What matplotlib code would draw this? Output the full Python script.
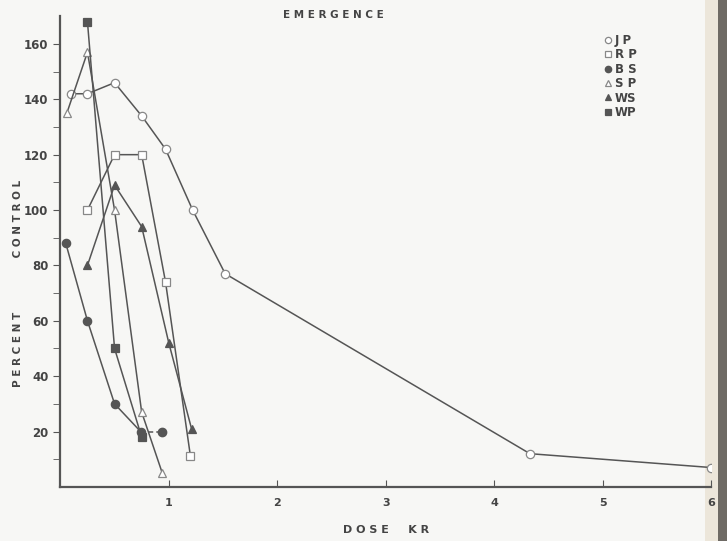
import matplotlib
matplotlib.use("Agg")
import matplotlib.pyplot as plt
from matplotlib.patches import Rectangle

# emergence, percent of control vs dose (kR)
jp_x = [0.1, 0.25, 0.5, 0.75, 0.97, 1.22, 1.52, 4.33, 6.0]
jp_y = [142, 142, 146, 134, 122, 100, 77, 12, 7]
rp_x = [0.25, 0.5, 0.75, 0.97, 1.2]
rp_y = [100, 120, 120, 74, 11]
bs_x = [0.05, 0.25, 0.5, 0.74, 0.94]
bs_y = [88, 60, 30, 20, 20]
sp_x = [0.06, 0.25, 0.5, 0.75, 0.94]
sp_y = [135, 157, 100, 27, 5]
ws_x = [0.25, 0.5, 0.75, 1.0, 1.21]
ws_y = [80, 109, 94, 52, 21]
wp_x = [0.25, 0.5, 0.75]
wp_y = [168, 50, 18]

xticks = [1, 2, 3, 4, 5, 6]
yticks = [20, 40, 60, 80, 100, 120, 140, 160]

ink = "#555555"
txt = "#444444"
bg = "#f7f7f5"

fig = plt.figure(figsize=(7.27, 5.41), dpi=100, facecolor=bg)
ax = fig.add_axes([0.083, 0.1, 0.895, 0.87], facecolor="none")

kw = dict(color=ink, lw=1.1, markersize=6, markeredgewidth=0.9)
h_jp, = ax.plot(jp_x, jp_y, marker="o", mfc="white", mec="#888888", **kw)
h_rp, = ax.plot(rp_x, rp_y, marker="s", mfc="white", mec="#888888", **kw)
ax.plot(bs_x[:-1], bs_y[:-1], marker="o", mfc=ink, mec=ink, **kw)
ax.plot(bs_x[-2:], bs_y[-2:], ls="--", dashes=(3, 2), color=ink, lw=1.1)
h_bs, = ax.plot(bs_x[-1:], bs_y[-1:], ls="none", marker="o", mfc=ink, mec=ink,
                markersize=6)
h_sp, = ax.plot(sp_x, sp_y, marker="^", mfc="white", mec="#888888", **kw)
h_ws, = ax.plot(ws_x, ws_y, marker="^", mfc=ink, mec=ink, **kw)
h_wp, = ax.plot(wp_x, wp_y, marker="s", mfc=ink, mec=ink, **kw)

ax.set_xlim(0, 6.0)
ax.set_ylim(0, 170)
ax.set_xticks(xticks)
ax.set_yticks(yticks)
ax.set_yticks(range(10, 170, 10), minor=True)
ax.tick_params(axis="x", direction="in", length=5, color=ink, labelcolor=txt,
               labelsize=8, pad=8)
ax.tick_params(axis="y", which="both", direction="out", length=5, color=ink,
               labelcolor=txt, labelsize=8.5)
for lab in ax.get_xticklabels() + ax.get_yticklabels():
    lab.set_fontweight("bold")

for s in ["top", "right"]:
    ax.spines[s].set_visible(False)
for s in ["left", "bottom"]:
    ax.spines[s].set_color(ink)
    ax.spines[s].set_linewidth(1.6)

ax.set_xlabel("D O S E     K R", fontsize=8, fontweight="bold", color=txt,
              labelpad=12)
fig.text(0.025, 0.477, "P E R C E N T               C O N T R O L",
         rotation=90, ha="center", va="center", fontsize=7.5,
         fontweight="bold", color=txt)
fig.text(0.458, 0.972, "E M E R G E N C E", ha="center", va="center",
         fontsize=7.5, fontweight="bold", color=txt)

leg = ax.legend([h_jp, h_rp, h_bs, h_sp, h_ws, h_wp],
                ["J P", "R P", "B S", "S P", "WS", "WP"],
                loc="upper left", bbox_to_anchor=(0.825, 0.985), frameon=False,
                handlelength=0, handletextpad=0.6, labelspacing=0.12,
                fontsize=8.5, markerscale=0.75)
for t in leg.get_texts():
    t.set_fontweight("bold")
    t.set_color(txt)

# scanned page edge on the right
fig.patches.append(Rectangle((0.970, 0), 0.018, 1, transform=fig.transFigure,
                             facecolor="#ece6da", edgecolor="none", zorder=-1))
fig.patches.append(Rectangle((0.988, 0), 0.012, 1, transform=fig.transFigure,
                             facecolor="#6e6a64", edgecolor="none", zorder=-1))

fig.savefig("out.png", dpi=100, facecolor=bg)
